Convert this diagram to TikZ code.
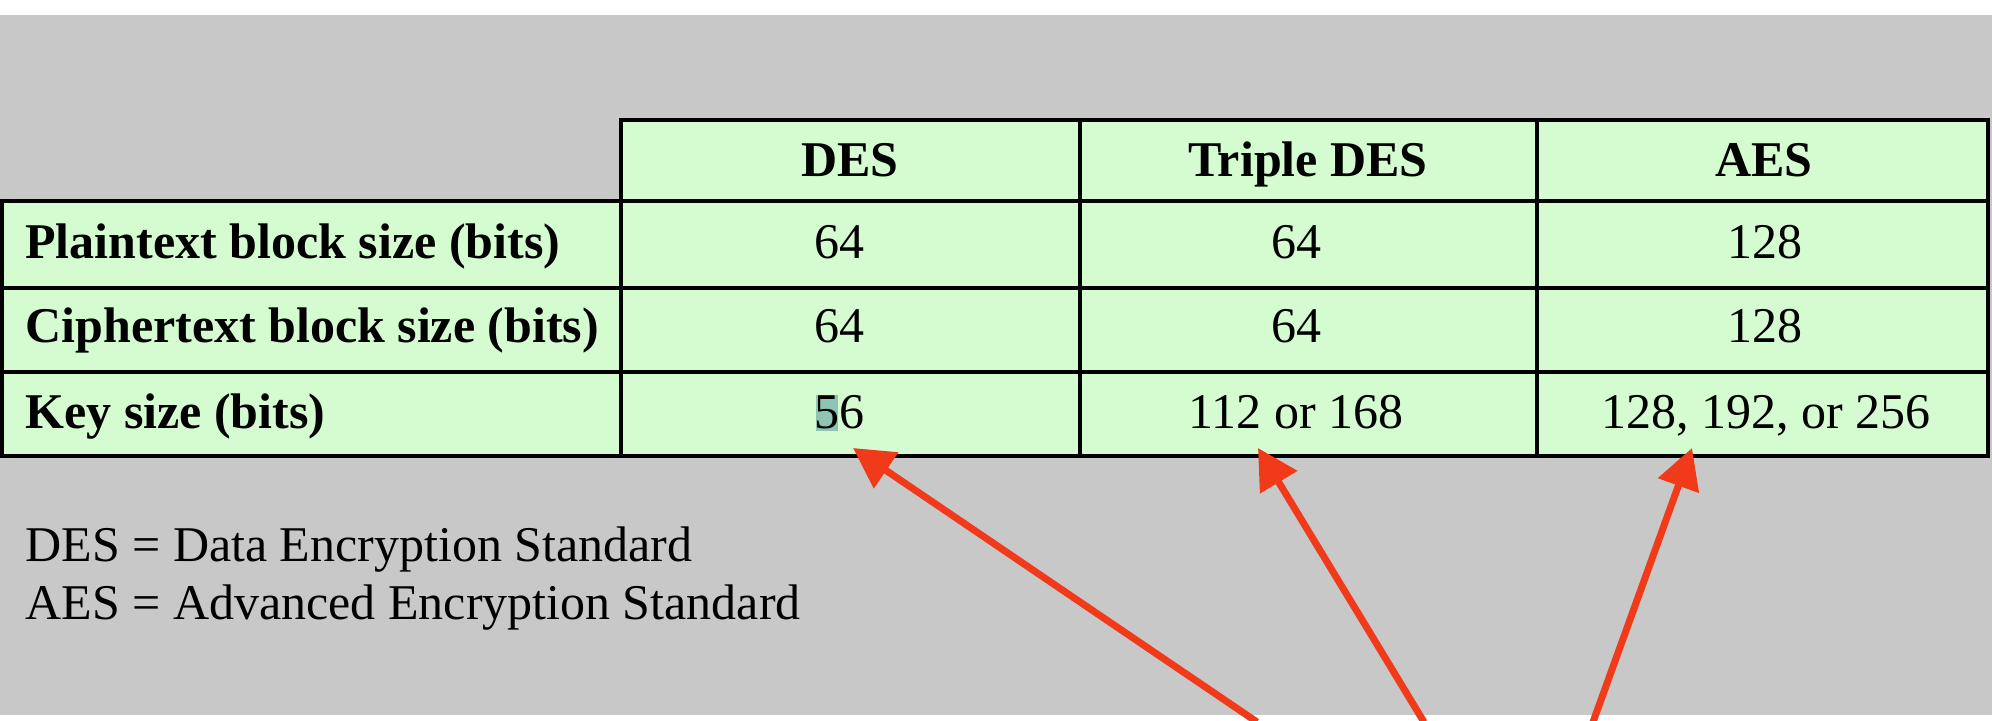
\documentclass[tikz,border=0pt]{standalone}
\usepackage{fontspec}
\setmainfont{Liberation Serif}
\usetikzlibrary{arrows.meta}
\definecolor{bggray}{HTML}{C8C8C8}
\definecolor{cellgreen}{HTML}{D4FCD0}
\definecolor{arrowred}{HTML}{F03A1A}
\definecolor{selteal}{HTML}{8DC4B4}
\tikzset{
  cell/.style={draw=black, line width=2pt, fill=cellgreen, inner sep=0pt},
  hdrtext/.style={anchor=base, inner sep=0pt, font=\bfseries\fontsize{25pt}{30pt}\selectfont},
  rowtext/.style={anchor=base west, inner sep=0pt, font=\bfseries\fontsize{25pt}{30pt}\selectfont},
  valtext/.style={anchor=base, inner sep=0pt, font=\fontsize{25pt}{30pt}\selectfont},
  legtext/.style={anchor=base west, inner sep=0pt, font=\fontsize{25pt}{30pt}\selectfont},
  pointer/.style={draw=arrowred, line width=3.5pt, -{Triangle[length=20pt,width=21pt]}}
}
\begin{document}
\begin{tikzpicture}[x=0.5pt,y=-0.5pt]
\useasboundingbox (0,0) rectangle (1992,720);
\fill[white] (0,0) rectangle (1992,720);
\fill[bggray] (0,15) rectangle (1992,715);

% header row
\node[cell, minimum width=229.5pt, minimum height=40.5pt] (hdes) at (850.5,160.5) {};
\node[cell, minimum width=228.5pt, minimum height=40.5pt] (htdes) at (1308.5,160.5) {};
\node[cell, minimum width=225.5pt, minimum height=40.5pt] (haes) at (1762.5,160.5) {};
% row 1
\node[cell, minimum width=309.5pt, minimum height=43.5pt] (l1) at (311.5,244.5) {};
\node[cell, minimum width=229.5pt, minimum height=43.5pt] (c11) at (850.5,244.5) {};
\node[cell, minimum width=228.5pt, minimum height=43.5pt] (c12) at (1308.5,244.5) {};
\node[cell, minimum width=225.5pt, minimum height=43.5pt] (c13) at (1762.5,244.5) {};
% row 2
\node[cell, minimum width=309.5pt, minimum height=42pt] (l2) at (311.5,330) {};
\node[cell, minimum width=229.5pt, minimum height=42pt] (c21) at (850.5,330) {};
\node[cell, minimum width=228.5pt, minimum height=42pt] (c22) at (1308.5,330) {};
\node[cell, minimum width=225.5pt, minimum height=42pt] (c23) at (1762.5,330) {};
% row 3
\node[cell, minimum width=309.5pt, minimum height=42pt] (l3) at (311.5,414) {};
\node[cell, minimum width=229.5pt, minimum height=42pt] (c31) at (850.5,414) {};
\node[cell, minimum width=228.5pt, minimum height=42pt] (c32) at (1308.5,414) {};
\node[cell, minimum width=225.5pt, minimum height=42pt] (c33) at (1762.5,414) {};

% header texts
\node[hdrtext] (tdes) at (850,176) {DES};
\node[hdrtext] (ttdes) at (1308,176) {Triple DES};
\node[hdrtext] (taes) at (1764,176) {AES};

% row labels
\node[rowtext] (tl1) at (25,258) {Plaintext block size (bits)};
\node[rowtext] (tl2) at (25,342) {Ciphertext block size (bits)};
\node[rowtext] (tl3) at (25,428) {Key size (bits)};

% values
\node[valtext] (v11) at (839,258) {64};
\node[valtext] (v12) at (1296,258) {64};
\node[valtext] (v13) at (1765,258) {128};
\node[valtext] (v21) at (839,342) {64};
\node[valtext] (v22) at (1296,342) {64};
\node[valtext] (v23) at (1765,342) {128};
\node[fill=selteal, inner sep=0pt, minimum width=11pt, minimum height=18pt] (sel) at (827,413) {};
\node[valtext] (v31) at (839,428) {56};
\node[valtext] (v32) at (1296,428) {112 or 168};
\node[valtext] (v33) at (1766,428) {128, 192, or 256};

% legend
\node[legtext] (leg1) at (25,561) {DES = Data Encryption Standard};
\node[legtext] (leg2) at (25,619) {AES = Advanced Encryption Standard};

% arrows
\coordinate (s1) at (1257,722);
\coordinate (s2) at (1424,722);
\coordinate (s3) at (1593,722);
\coordinate (e1) at (853,448);
\coordinate (e2) at (1258,448);
\coordinate (e3) at (1692,448);
\draw[pointer] (s1) -- (e1);
\draw[pointer] (s2) -- (e2);
\draw[pointer] (s3) -- (e3);
\end{tikzpicture}
\end{document}
